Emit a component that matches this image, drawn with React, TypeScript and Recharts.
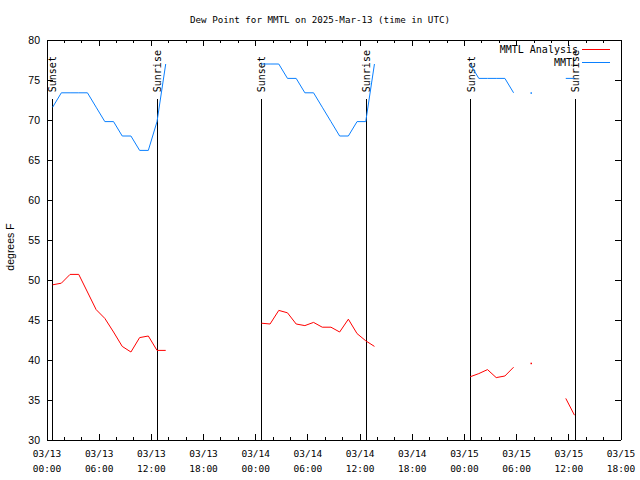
import { LineChart, Line, XAxis, YAxis, ReferenceLine } from 'recharts';

// hours after 03/13 00:00 UTC; 19 and 43 are gap rows so the days do not join
const hours = [
  0.65, 1.65, 2.65, 3.65, 4.65, 5.65, 6.65, 7.65, 8.65, 9.65, 10.65, 11.65, 12.65, 13.65,
  19,
  24.65, 25.65, 26.65, 27.65, 28.65, 29.65, 30.65, 31.65, 32.65, 33.65, 34.65, 35.65, 36.65, 37.65,
  43,
  48.65, 49.65, 50.65, 51.65, 52.65, 53.65, 54.65, 55.65, 56.65, 57.65, 58.65, 59.65, 60.65,
];

const mmtl = [
  71.6, 73.4, 73.4, 73.4, 73.4, 71.6, 69.8, 69.8, 68, 68, 66.2, 66.2, 69.8, 77,
  null,
  77, 77, 77, 75.2, 75.2, 73.4, 73.4, 71.6, 69.8, 68, 68, 69.8, 69.8, 77,
  null,
  77, 75.2, 75.2, 75.2, 75.2, 73.4, null, 73.4, null, null, null, 75.2, 75.2,
];

const analysis = [
  49.4, 49.6, 50.7, 50.7, 48.5, 46.3, 45.2, 43.5, 41.7, 41.0, 42.8, 43.0, 41.2, 41.2,
  null,
  44.6, 44.5, 46.2, 45.9, 44.5, 44.3, 44.7, 44.1, 44.1, 43.5, 45.1, 43.3, 42.4, 41.7,
  null,
  37.9, 38.3, 38.8, 37.8, 38.0, 39.1, null, 39.6, null, null, null, 35.2, 33.1,
];

const sunTimes = [0.63, 12.66, 24.64, 36.72, 48.72, 60.75];
const sunLabels = ['Sunset', 'Sunrise', 'Sunset', 'Sunrise', 'Sunset', 'Sunrise'];

const xTicks = [
  0, 2, 4, 6, 8, 10, 12, 14, 16, 18, 20, 22, 24, 26, 28, 30, 32,
  34, 36, 38, 40, 42, 44, 46, 48, 50, 52, 54, 56, 58, 60, 62, 64, 66,
];
const xDates = ['03/13', '03/13', '03/13', '03/13', '03/14', '03/14', '03/14', '03/14', '03/15', '03/15', '03/15', '03/15'];
const xTimes = ['00:00', '06:00', '12:00', '18:00', '00:00', '06:00', '12:00', '18:00', '00:00', '06:00', '12:00', '18:00'];
const yTicks = [30, 35, 40, 45, 50, 55, 60, 65, 70, 75, 80];

const RED = '#ff0000';
const BLUE = '#0a80ff';
const MONO = '"DejaVu Sans Mono", monospace';
const SANS = '"Liberation Sans", Arial, sans-serif';

const rows = hours.map((t, i) => ({ t, mmtl: mmtl[i], analysis: analysis[i] }));

const isolated = (arr: (number | null)[], i: number) =>
  arr[i] != null && (i === 0 || arr[i - 1] == null) && (i === arr.length - 1 || arr[i + 1] == null);

const makeDot = (arr: (number | null)[], color: string) => (props: any) => {
  const { cx, cy, index } = props;
  if (cy == null || !isolated(arr, index)) return <g key={`d${index}`} />;
  return <rect key={`d${index}`} x={cx - 0.5} y={cy - 0.5} width={1.5} height={1.5} fill={color} />;
};

function BottomTick(props: any) {
  const { x, y, payload } = props;
  const v = payload.value;
  const major = v % 6 === 0;
  const i = v / 6;
  return (
    <g>
      <line x1={x} y1={y} x2={x} y2={y - (major ? 6 : 3)} stroke="#000" shapeRendering="crispEdges" />
      {major && (
        <text x={x} y={y + 17} textAnchor="middle" fontFamily={MONO} fontSize={9.5} fill="#000">
          {xDates[i]}
        </text>
      )}
      {major && (
        <text x={x} y={y + 32} textAnchor="middle" fontFamily={MONO} fontSize={9.5} fill="#000">
          {xTimes[i]}
        </text>
      )}
    </g>
  );
}

function TopTick(props: any) {
  const { x, y, payload } = props;
  const major = payload.value % 6 === 0;
  return <line x1={x} y1={y} x2={x} y2={y + (major ? 6 : 3)} stroke="#000" shapeRendering="crispEdges" />;
}

function LeftTick(props: any) {
  const { x, y, payload } = props;
  return (
    <g>
      <line x1={x} y1={y} x2={x + 6} y2={y} stroke="#000" shapeRendering="crispEdges" />
      <text x={x - 7} y={y + 4} textAnchor="end" fontFamily={SANS} fontSize={10.5} fill="#000">
        {payload.value}
      </text>
    </g>
  );
}

function RightTick(props: any) {
  const { x, y } = props;
  return <line x1={x} y1={y} x2={x - 6} y2={y} stroke="#000" shapeRendering="crispEdges" />;
}

const sunLabel = (text: string) => (props: any) => {
  const { viewBox } = props;
  const x = viewBox.x + 4;
  const y = viewBox.y - 7;
  return (
    <text x={x} y={y} transform={`rotate(-90, ${x}, ${y})`} fontFamily={MONO} fontSize={10} fill="#000">
      {text}
    </text>
  );
};

const axisLine = { stroke: '#000', shapeRendering: 'crispEdges' };

export default function App() {
  return (
    <div style={{ position: 'absolute', left: 0, top: 0, width: 640, height: 480, background: '#fff' }}>
      <LineChart width={640} height={480} data={rows} margin={{ top: 0, right: 0, bottom: 0, left: 0 }}>
        <XAxis
          xAxisId="b"
          dataKey="t"
          type="number"
          domain={[0, 66]}
          ticks={xTicks}
          interval={0}
          height={40}
          tickSize={0}
          tickMargin={0}
          tickLine={false}
          axisLine={axisLine}
          tick={BottomTick}
          allowDataOverflow
        />
        <XAxis
          xAxisId="t"
          orientation="top"
          dataKey="t"
          type="number"
          domain={[0, 66]}
          ticks={xTicks}
          interval={0}
          height={40}
          tickSize={0}
          tickMargin={0}
          tickLine={false}
          axisLine={axisLine}
          tick={TopTick}
          allowDataOverflow
        />
        <YAxis
          yAxisId="l"
          type="number"
          domain={[30, 80]}
          ticks={yTicks}
          interval={0}
          width={47}
          tickSize={0}
          tickMargin={0}
          tickLine={false}
          axisLine={axisLine}
          tick={LeftTick}
          allowDataOverflow
        />
        <YAxis
          yAxisId="r"
          orientation="right"
          type="number"
          domain={[30, 80]}
          ticks={yTicks}
          interval={0}
          width={19}
          tickSize={0}
          tickMargin={0}
          tickLine={false}
          axisLine={axisLine}
          tick={RightTick}
          allowDataOverflow
        />
        {sunTimes.map((t, i) => (
          <ReferenceLine
            key={`sun${i}`}
            xAxisId="b"
            yAxisId="l"
            segment={[{ x: t, y: 72.6 }, { x: t, y: 30 }]}
            stroke="#000"
            strokeWidth={1}
            shapeRendering="crispEdges"
            label={sunLabel(sunLabels[i])}
          />
        ))}
        <Line
          xAxisId="b"
          yAxisId="l"
          dataKey="analysis"
          stroke={RED}
          strokeWidth={1}
          dot={makeDot(analysis, RED)}
          activeDot={false}
          isAnimationActive={false}
        />
        <Line
          xAxisId="b"
          yAxisId="l"
          dataKey="mmtl"
          stroke={BLUE}
          strokeWidth={1}
          dot={makeDot(mmtl, BLUE)}
          activeDot={false}
          isAnimationActive={false}
        />
      </LineChart>
      <svg width={640} height={480} style={{ position: 'absolute', left: 0, top: 0, pointerEvents: 'none' }}>
        <text x={320} y={23} textAnchor="middle" fontFamily={MONO} fontSize={9.2} fill="#000">
          Dew Point for MMTL on 2025-Mar-13 (time in UTC)
        </text>
        <text
          x={14}
          y={247}
          transform="rotate(-90, 14, 247)"
          textAnchor="middle"
          fontFamily={SANS}
          fontSize={10.5}
          fill="#000"
        >
          degrees F
        </text>
        <text x={578} y={53} textAnchor="end" fontFamily={MONO} fontSize={10} fill="#000">MMTL Analysis</text>
        <line x1={582} y1={49.5} x2={610} y2={49.5} stroke={RED} />
        <text x={578} y={66} textAnchor="end" fontFamily={MONO} fontSize={10} fill="#000">MMTL</text>
        <line x1={582} y1={62.5} x2={610} y2={62.5} stroke={BLUE} />
      </svg>
    </div>
  );
}
